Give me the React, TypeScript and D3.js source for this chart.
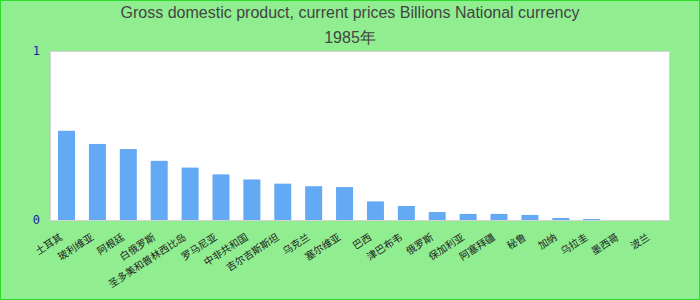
import React from "react";
import * as d3 from "d3";

const titleLines = ["Gross domestic product, current prices Billions National currency", "1985年"];
const categories = [
  "土耳其", "玻利维亚", "阿根廷", "白俄罗斯", "圣多美和普林西比岛", "罗马尼亚", "中非共和国", "吉尔吉斯斯坦",
  "乌克兰", "塞尔维亚", "巴西", "津巴布韦", "俄罗斯", "保加利亚", "阿塞拜疆", "秘鲁", "加纳", "乌拉圭", "墨西哥", "波兰",
];
const values = [0.528, 0.45, 0.42, 0.35, 0.31, 0.27, 0.24, 0.215, 0.2, 0.195, 0.11, 0.083, 0.047, 0.036, 0.036, 0.03, 0.012, 0.006, 0, 0];
const yTicks = [0, 1];

const W = 700, H = 300;
const plot = { left: 50, right: 670, top: 51, bottom: 220 };

export default function App() {
  const x = d3.scaleBand<string>().domain(categories).range([plot.left, plot.right]).paddingInner(0.45).paddingOuter(0.26);
  const y = d3.scaleLinear().domain([0, 1]).range([plot.bottom, plot.top]);
  return (
    <div style={{ position: "fixed", left: 0, top: 0 }}>
      <svg width={W} height={H} style={{ display: "block" }}>
        <rect x={0} y={0} width={W} height={H} fill="#90ee90" stroke="#2bdc2b" strokeWidth={2} />
        {titleLines.map((t, i) => (
          <text key={i} x={350} y={18 + i * 25} textAnchor="middle" fontFamily="Liberation Sans, Arial, sans-serif" fontSize={16} fill="#444">
            {t}
          </text>
        ))}
        <rect x={plot.left + 0.5} y={plot.top + 0.5} width={plot.right - plot.left - 1} height={plot.bottom - plot.top} fill="#fff" stroke="#d4d4d4" strokeWidth={1} />
        {categories.map((c, i) => (
          <rect key={c} x={x(c)} y={y(values[i])} width={x.bandwidth()} height={y(0) - y(values[i])} fill="#63a9f3" />
        ))}
        {yTicks.map((t) => (
          <text key={t} x={40} y={y(t)} dy="0.35em" textAnchor="end" fontFamily="DejaVu Sans Mono, monospace" fontSize={12} fill="#1a1aa8">
            {t}
          </text>
        ))}
        {categories.map((c) => {
          const cx = (x(c) as number) + x.bandwidth() / 2;
          return (
            <text key={c} transform={`translate(${cx - 5},${236}) rotate(-33)`} textAnchor="end" dy="0.35em" fontFamily="Noto Sans CJK SC, sans-serif" fontSize={10} fill="#222">
              {c}
            </text>
          );
        })}
      </svg>
    </div>
  );
}
